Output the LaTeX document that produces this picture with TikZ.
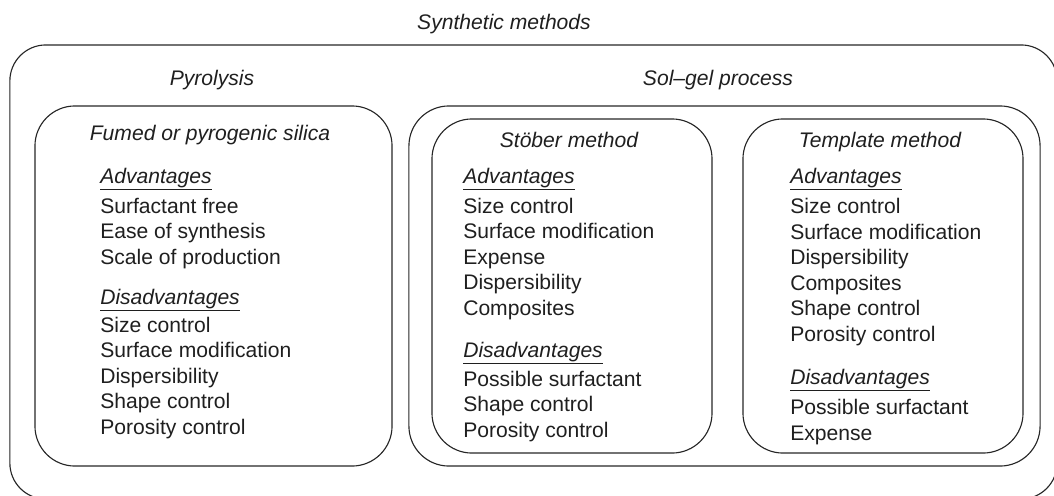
\documentclass[tikz,border=0pt]{standalone}
\usepackage{fontspec}
\setmainfont{Liberation Sans}
\usetikzlibrary{positioning}

\begin{document}
\begin{tikzpicture}[x=0.025cm, y=-0.025cm,
  obox/.style={draw=black!85, line width=0.8pt, rounded corners=0.9cm,
               inner sep=0pt},
  box/.style={draw=black!85, line width=0.8pt, rounded corners=1cm,
              inner sep=0pt},
  title/.style={font=\fontsize{15}{18}\selectfont\itshape, text=black!88,
                anchor=base, inner sep=0pt},
  head/.style={font=\fontsize{15}{18}\selectfont\itshape, text=black!88,
               anchor=base west, inner sep=0pt},
  items/.style={font=\fontsize{15}{18.1}\selectfont, text=black!88,
                align=left, anchor=base west, inner sep=0pt}
]
\useasboundingbox (0,0) rectangle (1054,495);

%% Nested rounded boxes
\node[obox, minimum width=26.175cm, minimum height=11.35cm] (synth) at (533.5,272) {};
\node[box, minimum width=8.925cm, minimum height=9cm] (pyro) at (213.5,286) {};
\node[box, minimum width=15.775cm, minimum height=9cm] (solgel) at (724.5,286) {};
\node[box, minimum width=7cm, minimum height=8.35cm] (stober) at (572,286) {};
\node[box, minimum width=7cm, minimum height=8.35cm] (templ) at (883,286) {};

%% Box titles
\node[title] (synthT) at (504,29) {Synthetic methods};
\node[title] (pyroT) at (212,85) {Pyrolysis};
\node[title] (solgelT) at (718,85) {Sol--gel process};
\node[title] (fumedT) at (210,140) {Fumed or pyrogenic silica};
\node[title] (stoberT) at (569,147) {Stöber method};
\node[title] (templT) at (880,147) {Template method};

%% Lists: items anchored on the baseline of their last line
%% Fumed silica
\node[head] (pyroAdv) at (100,183) {\underline{Advantages}};
\node[items] (pyroAdvL) at (100,264) {Surfactant free\\Ease of synthesis\\Scale of production};
\node[head] (pyroDis) at (100,304) {\underline{Disadvantages}};
\node[items] (pyroDisL) at (100,434) {Size control\\Surface modification\\Dispersibility\\Shape control\\Porosity control};

%% Stober
\node[head] (stoberAdv) at (463,183) {\underline{Advantages}};
\node[items] (stoberAdvL) at (463,315) {Size control\\Surface modification\\Expense\\Dispersibility\\Composites};
\node[head] (stoberDis) at (463,357) {\underline{Disadvantages}};
\node[items] (stoberDisL) at (463,437) {Possible surfactant\\Shape control\\Porosity control};

%% Template
\node[head] (templAdv) at (790,183) {\underline{Advantages}};
\node[items] (templAdvL) at (790,341) {Size control\\Surface modification\\Dispersibility\\Composites\\Shape control\\Porosity control};
\node[head] (templDis) at (790,384) {\underline{Disadvantages}};
\node[items] (templDisL) at (790,440) {Possible surfactant\\Expense};
\end{tikzpicture}
\end{document}
